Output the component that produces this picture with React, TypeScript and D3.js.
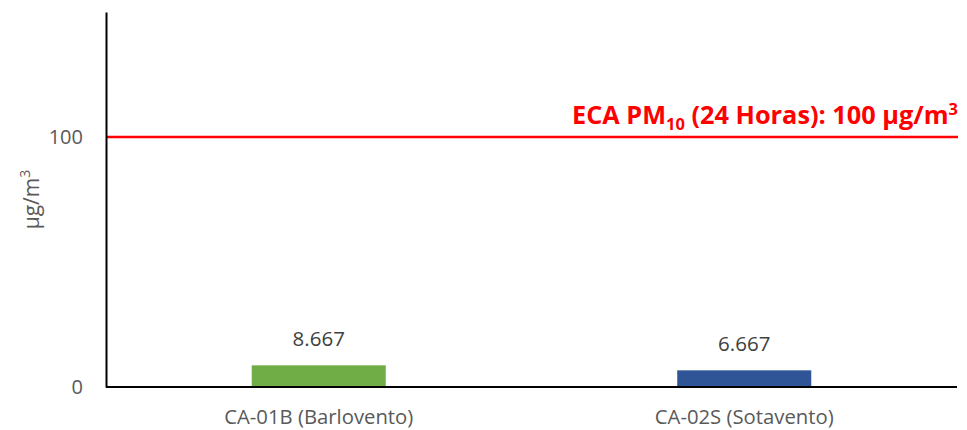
import * as React from "react";
import { useEffect, useRef } from "react";
import { axisLeft, scaleBand, scaleLinear, select } from "d3";

const categories = ["CA-01B (Barlovento)", "CA-02S (Sotavento)"];
const values = [8.667, 6.667];
const barColors = ["#70AD47", "#2F5597"];
const yTicks = [0, 100];
const limitValue = 100;

const W = 967;
const H = 430;
const margin = { top: 12, right: 10, bottom: 43, left: 106 };
const FONT = "'Open Sans', 'Liberation Sans', sans-serif";

function AxisLeft({ scale }) {
  const ref = useRef<SVGGElement>(null);
  useEffect(() => {
    if (ref.current) {
      const g = select(ref.current);
      g.call(axisLeft(scale).tickValues(yTicks).tickSize(0).tickPadding(23));
      g.select(".domain").attr("stroke", "#000").attr("stroke-width", 2);
      g.selectAll(".tick text")
        .attr("fill", "#595959")
        .style("font-family", FONT)
        .style("font-size", "20px");
    }
  }, [scale]);
  return <g ref={ref} transform={`translate(${margin.left},0)`} />;
}

export default function App() {
  const x = scaleBand().domain(categories).range([margin.left, W - margin.right]);
  const y = scaleLinear().domain([0, 150]).range([H - margin.bottom, margin.top]);
  const barW = x.bandwidth() * 0.315;
  const y0 = y(0);

  return (
    <svg
      width={W}
      height={H}
      style={{ position: "absolute", left: 0, top: 0, background: "#fff" }}
    >
      {categories.map((c, i) => {
        const cx = (x(c) as number) + x.bandwidth() / 2;
        return (
          <g key={c}>
            <rect
              x={cx - barW / 2}
              y={y(values[i])}
              width={barW}
              height={y0 - y(values[i])}
              fill={barColors[i]}
            />
            <text
              x={cx}
              y={y(values[i]) - 19}
              textAnchor="middle"
              fill="#404040"
              fontFamily={FONT}
              fontSize={20.5}
            >
              {values[i].toFixed(3)}
            </text>
            <text
              x={cx}
              y={y0 + 37}
              textAnchor="middle"
              fill="#595959"
              fontFamily={FONT}
              fontSize={20.3}
            >
              {c}
            </text>
          </g>
        );
      })}
      <line
        x1={margin.left}
        x2={W - margin.right}
        y1={y0}
        y2={y0}
        stroke="#000"
        strokeWidth={2}
      />
      <line
        x1={margin.left}
        x2={W - margin.right + 1}
        y1={y(limitValue)}
        y2={y(limitValue)}
        stroke="#FF0000"
        strokeWidth={2.5}
      />
      <text
        x={W - margin.right + 1}
        y={y(limitValue) - 13}
        textAnchor="end"
        fill="#FF0000"
        fontFamily={FONT}
        fontWeight="bold"
        fontSize={25.3}
      >
        ECA PM
        <tspan fontSize={16.5} dy={6}>10</tspan>
        <tspan dy={-6}> (24 Horas): 100 µg/m</tspan>
        <tspan fontSize={16.5} dy={-9}>3</tspan>
      </text>
      <AxisLeft scale={y} />
      <text
        transform={`translate(39,${(margin.top + y0) / 2}) rotate(-90)`}
        textAnchor="middle"
        fill="#595959"
        fontFamily={FONT}
        fontSize={21}
      >
        µg/m
        <tspan fontSize={14} dy={-9}>3</tspan>
      </text>
    </svg>
  );
}
